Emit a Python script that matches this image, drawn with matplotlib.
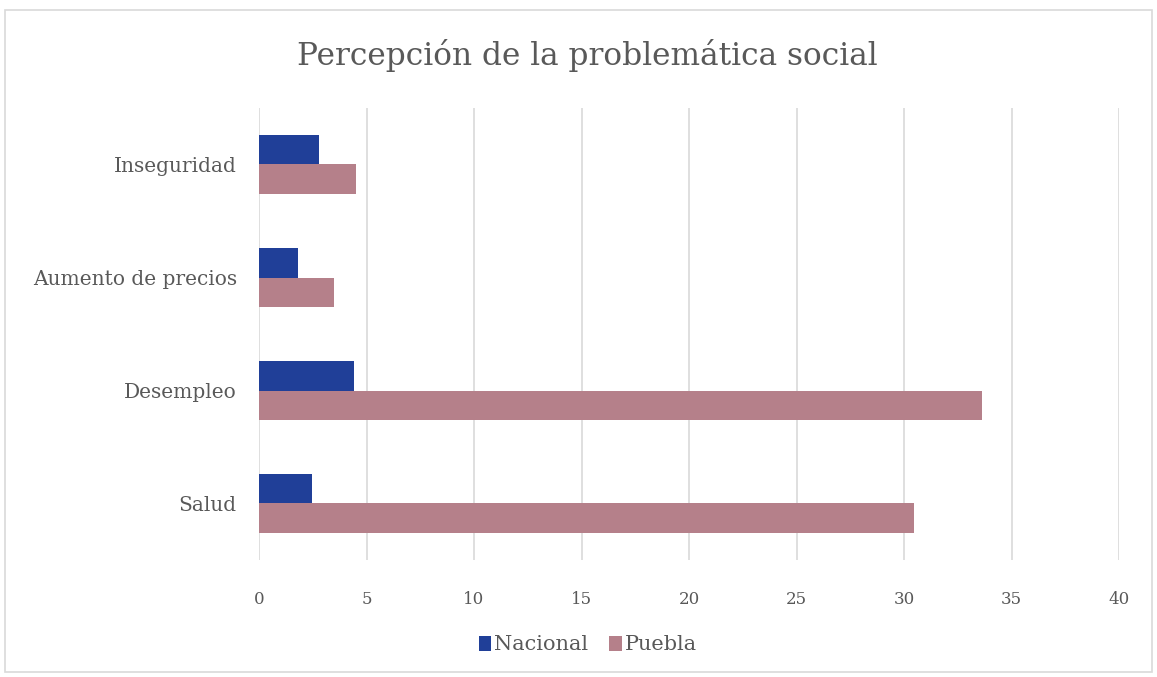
import matplotlib.pyplot as plt
from matplotlib.patches import Rectangle
import numpy as np

categories = ['Salud', 'Desempleo', 'Aumento de precios', 'Inseguridad']
nacional = [2.45, 4.4, 1.8, 2.8]
puebla = [30.45, 33.65, 3.5, 4.5]
xticks = [0, 5, 10, 15, 20, 25, 30, 35, 40]

plt.rcParams['font.family'] = ['DejaVu Serif', 'Liberation Serif']
text_color = '#595959'

fig = plt.figure(figsize=(11.57, 6.77), dpi=100)
fig.patches.append(Rectangle((5 / 1157, 5 / 677), 1147 / 1157, 662 / 677,
                             transform=fig.transFigure, fill=False,
                             edgecolor='#d9d9d9', linewidth=1.2))

ax = fig.add_axes([259 / 1157, 117 / 677, 860 / 1157, 452 / 677])
y = np.arange(len(categories))
h = 0.265
ax.barh(y + h / 2, nacional, height=h, color='#203f98', label='Nacional', zorder=3)
ax.barh(y - h / 2, puebla, height=h, color='#b5808a', label='Puebla', zorder=3)

ax.set_xlim(0, 40)
ax.set_ylim(-0.5, 3.5)
ax.set_xticks(xticks)
ax.set_xticklabels([str(t) for t in xticks])
ax.set_yticks(y)
ax.set_yticklabels(categories)
ax.grid(axis='x', color='#d9d9d9', linewidth=1.2, zorder=0)
ax.tick_params(length=0, colors=text_color)
ax.tick_params(axis='x', pad=22, labelsize=12)
ax.tick_params(axis='y', pad=16, labelsize=14.5)
for s in ax.spines.values():
    s.set_visible(False)

fig.text(0.508, 1 - 55 / 677, 'Percepción de la problemática social',
         ha='center', va='center', fontsize=22.5, color=text_color)

fig.legend(loc='center', bbox_to_anchor=(0.508, 1 - 645 / 677), ncol=2,
           frameon=False, handlelength=0.6, handleheight=0.7,
           handletextpad=0.15, columnspacing=1.0, fontsize=15,
           labelcolor=text_color)

fig.savefig('out.png', dpi=100)
